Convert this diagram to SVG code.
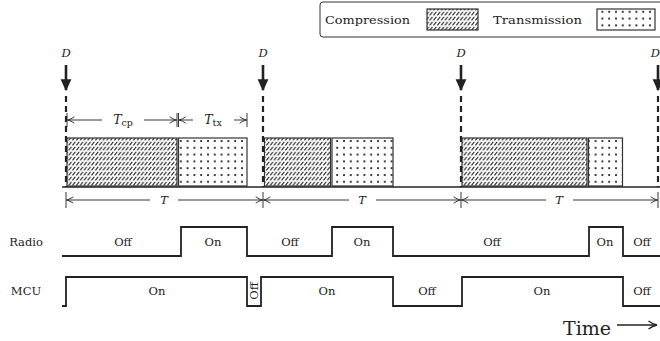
<svg xmlns="http://www.w3.org/2000/svg" width="660" height="341" viewBox="0 0 660 341">
<style>
text{font-family:"DejaVu Serif","Liberation Serif",serif;fill:#222;}
.lbl{font-size:11.5px;text-anchor:middle;}
.it{font-style:italic;}
.sig{fill:none;stroke:#222;stroke-width:1.8;stroke-linejoin:miter;}
.dim{fill:none;stroke:#222;stroke-width:0.9;}
.blk{stroke:#333;stroke-width:1.2;}
.dash{stroke:#222;stroke-width:2.2;stroke-dasharray:6,4;fill:none;}
.shaft{stroke:#222;stroke-width:2.6;}
</style>
<defs>
<pattern id="hatch" width="3.8" height="5" patternUnits="userSpaceOnUse" x="0" y="1">
<rect width="3.8" height="5" fill="#fff"/>
<line x1="0.4" y1="4.4" x2="3.2" y2="0.8" stroke="#111" stroke-width="1"/>
</pattern>
<pattern id="dots" width="6.8" height="6.8" patternUnits="userSpaceOnUse" x="2" y="3">
<rect width="6.8" height="6.8" fill="#fff"/>
<circle cx="2" cy="2" r="1.05" fill="#111"/>
</pattern>
<marker id="oa" viewBox="0 0 10 10" refX="9.5" refY="5" markerWidth="8" markerHeight="8" orient="auto" markerUnits="userSpaceOnUse">
<path d="M1,1 Q5,4 9.5,5 Q5,6 1,9" fill="none" stroke="#222" stroke-width="1.1"/>
</marker>
<marker id="ta" viewBox="0 0 10 10" refX="9.5" refY="5" markerWidth="10" markerHeight="10" orient="auto" markerUnits="userSpaceOnUse">
<path d="M1,1 Q5,4 9.5,5 Q5,6 1,9" fill="none" stroke="#222" stroke-width="1.3"/>
</marker>
<marker id="da" viewBox="0 0 10 10" refX="9" refY="5" markerWidth="12" markerHeight="12" orient="auto" markerUnits="userSpaceOnUse">
<path d="M0,0.5 L10,5 L0,9.5 Z" fill="#222"/>
</marker>
</defs>

<g id="legend">
<path d="M665,2 H323 Q320,2 320,5 V34 Q320,37 323,37 H665" fill="#fff" stroke="#333" stroke-width="1"/>
<text x="325" y="24" font-size="11" textLength="85" lengthAdjust="spacingAndGlyphs">Compression</text>
<rect x="427" y="9" width="51" height="21" fill="url(#hatch)" class="blk"/>
<text x="493" y="24" font-size="11" textLength="89" lengthAdjust="spacingAndGlyphs">Transmission</text>
<rect x="597" y="9" width="58" height="21" fill="url(#dots)" class="blk"/>
</g>

<g id="blocks">
<rect id="cp1" x="67" y="138" width="110" height="48" fill="url(#hatch)" class="blk"/>
<rect id="tx1" x="178.5" y="138" width="68.5" height="48" fill="url(#dots)" class="blk"/>
<rect id="cp2" x="264.5" y="138" width="66" height="48" fill="url(#hatch)" class="blk"/>
<rect id="tx2" x="332" y="138" width="61" height="48" fill="url(#dots)" class="blk"/>
<rect id="cp3" x="462" y="138" width="125" height="48" fill="url(#hatch)" class="blk"/>
<rect id="tx3" x="588.5" y="138" width="34" height="48" fill="url(#dots)" class="blk"/>
</g>

<g id="connectors">
<line x1="62" y1="187" x2="660" y2="187" stroke="#222" stroke-width="1.6"/>
<line x1="66" y1="65" x2="66" y2="90" class="shaft" marker-end="url(#da)"/>
<line x1="263" y1="65" x2="263" y2="90" class="shaft" marker-end="url(#da)"/>
<line x1="461" y1="65" x2="461" y2="90" class="shaft" marker-end="url(#da)"/>
<line x1="658" y1="65" x2="658" y2="90" class="shaft" marker-end="url(#da)"/>
<line x1="66" y1="96" x2="66" y2="187" class="dash"/>
<line x1="263" y1="96" x2="263" y2="187" class="dash"/>
<line x1="461" y1="96" x2="461" y2="187" class="dash"/>
<line x1="658" y1="96" x2="658" y2="187" class="dash"/>
<g class="dim">
<line x1="67" y1="113" x2="67" y2="127"/>
<line x1="177" y1="113" x2="177" y2="127"/>
<line x1="178.5" y1="113" x2="178.5" y2="127"/>
<line x1="247" y1="113" x2="247" y2="127"/>
<line x1="102" y1="120" x2="67.5" y2="120" marker-end="url(#oa)"/>
<line x1="144" y1="120" x2="176.5" y2="120" marker-end="url(#oa)"/>
<line x1="193" y1="120" x2="179" y2="120" marker-end="url(#oa)"/>
<line x1="234" y1="120" x2="246.5" y2="120" marker-end="url(#oa)"/>
<line x1="66" y1="192" x2="66" y2="208"/>
<line x1="263" y1="192" x2="263" y2="208"/>
<line x1="461" y1="192" x2="461" y2="208"/>
<line x1="658" y1="192" x2="658" y2="208"/>
<line x1="150" y1="200" x2="66.5" y2="200" marker-end="url(#oa)"/>
<line x1="178" y1="200" x2="262.5" y2="200" marker-end="url(#oa)"/>
<line x1="349" y1="200" x2="263.5" y2="200" marker-end="url(#oa)"/>
<line x1="376" y1="200" x2="460.5" y2="200" marker-end="url(#oa)"/>
<line x1="546" y1="200" x2="461.5" y2="200" marker-end="url(#oa)"/>
<line x1="573" y1="200" x2="657.5" y2="200" marker-end="url(#oa)"/>
<line x1="617" y1="325" x2="657" y2="325" stroke-width="1.3" marker-end="url(#ta)"/>
</g>
<path class="sig" d="M62,256 H181 V227 H247 V256 H332 V227 H393 V256 H589 V227 H623 V256 H660"/>
<path class="sig" d="M62,306 H66 V277 H247 V306 H261 V277 H393 V306 H462 V277 H623 V306 H660"/>
</g>

<g id="labels">
<text x="66" y="57" class="lbl it">D</text>
<text x="263" y="57" class="lbl it">D</text>
<text x="461" y="57" class="lbl it">D</text>
<text x="660" y="57" class="it" font-size="11.5" text-anchor="end">D</text>
<text x="123" y="124" class="lbl"><tspan class="it" font-size="12.5">T</tspan><tspan font-size="9.5" dy="2">cp</tspan></text>
<text x="213" y="124" class="lbl"><tspan class="it" font-size="12.5">T</tspan><tspan font-size="9.5" dy="2">tx</tspan></text>
<text x="164" y="204" class="lbl it">T</text>
<text x="362" y="204" class="lbl it">T</text>
<text x="559" y="204" class="lbl it">T</text>
<text x="26" y="246" class="lbl">Radio</text>
<text x="26" y="295" class="lbl">MCU</text>
<text x="123" y="246" class="lbl">Off</text>
<text x="213" y="246" class="lbl">On</text>
<text x="290" y="246" class="lbl">Off</text>
<text x="362" y="246" class="lbl">On</text>
<text x="492" y="246" class="lbl">Off</text>
<text x="605" y="246" class="lbl">On</text>
<text x="642" y="246" class="lbl">Off</text>
<text x="157" y="295" class="lbl">On</text>
<text x="0" y="0" class="lbl" transform="translate(258,291) rotate(-90)">Off</text>
<text x="327" y="295" class="lbl">On</text>
<text x="427" y="295" class="lbl">Off</text>
<text x="542" y="295" class="lbl">On</text>
<text x="642" y="295" class="lbl">Off</text>
<text x="563" y="335" font-size="19" font-family="Liberation Serif, serif">Time</text>
</g>
</svg>
